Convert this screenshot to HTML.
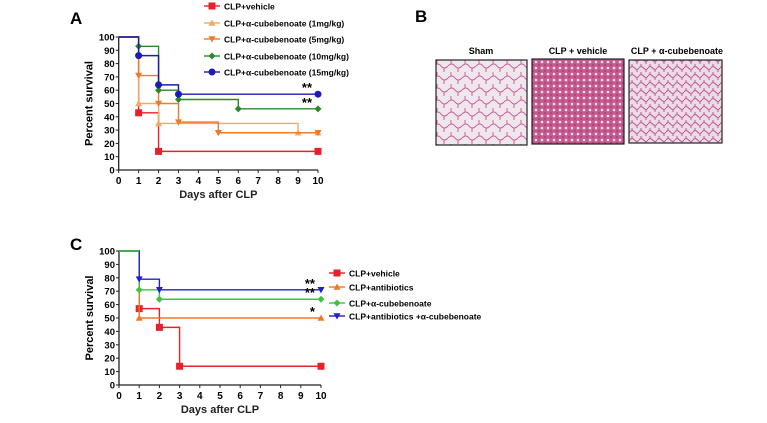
<!DOCTYPE html>
<html><head><meta charset="utf-8"><style>
body{margin:0;background:#fff;width:767px;height:418px;overflow:hidden;font-family:"Liberation Sans",Arial,sans-serif}
svg text{font-family:"Liberation Sans",Arial,sans-serif;font-weight:bold}
</style></head><body>
<svg id="fig" width="767" height="418" viewBox="0 0 767 418">
<defs>
<pattern id="p1" width="14" height="12" patternUnits="userSpaceOnUse"><rect width="14" height="12" fill="#efe6ee"/><path d="M0 6 Q4 2 7 6 T14 6 M3 0 V4 M10 8 V12" stroke="#c8649a" stroke-width="1" fill="none"/></pattern>
<pattern id="p2" width="6" height="6" patternUnits="userSpaceOnUse"><rect width="6" height="6" fill="#c45a8e"/><circle cx="2" cy="2" r="1.3" fill="#f0dce8"/><circle cx="5" cy="5" r="0.9" fill="#a83874"/></pattern>
<pattern id="p3" width="9" height="8" patternUnits="userSpaceOnUse"><rect width="9" height="8" fill="#eadbe7"/><path d="M0 4 Q2 1 4.5 4 T9 4 M2 0 V2 M7 6 V8" stroke="#c0578f" stroke-width="1" fill="none"/></pattern>
</defs>
<g id="panelA"></g>
<g id="panelC"></g>
<text x="70" y="24" font-size="17">A</text>
<text x="415" y="22" font-size="17">B</text>
<text x="70" y="250" font-size="17">C</text>
<text x="481" y="54" font-size="9" text-anchor="middle">Sham</text>
<text x="578" y="54" font-size="9" text-anchor="middle">CLP + vehicle</text>
<text x="677" y="54" font-size="9" text-anchor="middle">CLP + α-cubebenoate</text>
<rect x="436" y="60" width="91" height="85" fill="url(#p1)" stroke="#222" stroke-width="1.2"/>
<rect x="532" y="59" width="92" height="85" fill="url(#p2)" stroke="#222" stroke-width="1.2"/>
<rect x="629" y="60" width="93" height="83" fill="url(#p3)" stroke="#222" stroke-width="1.2"/>
</svg>
<script>
const ticksY=[0,10,20,30,40,50,60,70,80,90,100];
const ticksX=[0,1,2,3,4,5,6,7,8,9,10];
const namesA=["CLP+vehicle","CLP+α-cubebenoate (1mg/kg)","CLP+α-cubebenoate  (5mg/kg)","CLP+α-cubebenoate  (10mg/kg)","CLP+α-cubebenoate  (15mg/kg)"];
const colorsA=["#e8202a","#f6a860","#ef7a2c","#2a8a2a","#1c1cb0"];
const markersA=["square","up","down","diamond","circle"];
const daysA=[[1,2,10],[1,2,9,10],[1,2,3,5,10],[1,2,3,6,10],[1,2,3,10]];
const valsA=[[43,14,14],[50,35,28,28],[71,50,36,28,28],[93,60,53,46,46],[86,64,57,57]];
const namesC=["CLP+vehicle","CLP+antibiotics","CLP+α-cubebenoate","CLP+antibiotics +α-cubebenoate"];
const colorsC=["#e8202a","#f07828","#3cc43c","#2020c8"];
const markersC=["square","up","diamond","down"];
const daysC=[[1,2,3,10],[1,10],[1,2,10],[1,2,10]];
const valsC=[[57,43,14,14],[50,50],[71,64,64],[79,71,71]];
const NS="http://www.w3.org/2000/svg";
function mk(p,t,a){const e=document.createElementNS(NS,t);for(const k in a)e.setAttribute(k,a[k]);p.appendChild(e);return e;}
function marker(g,type,x,y,c,s){
 let e;
 if(type==="square")e=mk(g,"rect",{x:x-s,y:y-s,width:2*s,height:2*s,fill:c});
 else if(type==="circle")e=mk(g,"circle",{cx:x,cy:y,r:s,fill:c});
 else if(type==="up")e=mk(g,"polygon",{points:`${x},${y-s} ${x+s},${y+s*0.8} ${x-s},${y+s*0.8}`,fill:c});
 else if(type==="down")e=mk(g,"polygon",{points:`${x},${y+s} ${x+s},${y-s*0.8} ${x-s},${y-s*0.8}`,fill:c});
 else e=mk(g,"polygon",{points:`${x},${y-s} ${x+s},${y} ${x},${y+s} ${x-s},${y}`,fill:c});
 return e;
}
function chart(g,x0,x1,y0,y1,names,colors,markers,days,vals,legend,startColor){
 const X=d=>x0+(x1-x0)*d/10, Y=v=>y0-(y0-y1)*v/100;
 mk(g,"line",{x1:x0,y1:Y(0),x2:x0,y2:Y(100),stroke:"#222","stroke-width":1.3});
 mk(g,"line",{x1:x0,y1:Y(0),x2:X(10),y2:Y(0),stroke:"#222","stroke-width":1.3});
 ticksY.forEach(v=>{mk(g,"line",{x1:x0-3,y1:Y(v),x2:x0,y2:Y(v),stroke:"#222"});
  const t=mk(g,"text",{x:x0-4,y:Y(v)+3.5,"font-size":9.5,"text-anchor":"end"});t.textContent=v;
  
  });
 ticksX.forEach(d=>{mk(g,"line",{x1:X(d),y1:Y(0),x2:X(d),y2:Y(0)+3,stroke:"#222"});
  const t=mk(g,"text",{x:X(d),y:Y(0)+14,"font-size":10,"text-anchor":"middle"});t.textContent=d;
  
  });
 const xt=mk(g,"text",{x:(x0+X(10))/2,y:Y(0)+28,"font-size":11,"text-anchor":"middle",fill:"#222"});xt.textContent="Days after CLP";
 
 
 const yt=mk(g,"text",{x:0,y:0,"font-size":11,"text-anchor":"middle",transform:`translate(${x0-26},${(y0+y1)/2}) rotate(-90)`});yt.textContent="Percent survival";
 
 
 for(let i=0;i<names.length;i++){
  let d=`M${X(0)},${Y(100)}`;
  days[i].forEach((dd,j)=>{d+=` H${X(dd)} V${Y(vals[i][j])}`;});
  const p=mk(g,"path",{d:d,fill:"none",stroke:colors[i],"stroke-width":1.4});
  
  
  days[i].forEach((dd,j)=>{const m=marker(g,markers[i],X(dd),Y(vals[i][j]),colors[i],3.5);
   
   });
 }
 if(startColor)mk(g,"path",{d:`M${X(0)},${Y(100)} H${X(1)}`,stroke:startColor,"stroke-width":1.4});
 names.forEach((n,i)=>{const lx=legend.x,ly=legend.y[i];
  mk(g,"line",{x1:lx-8,y1:ly,x2:lx+8,y2:ly,stroke:colors[i],"stroke-width":1.4});
  const m=marker(g,markers[i],lx,ly,colors[i],3.5);
  
  
  const t=mk(g,"text",{x:lx+12,y:ly+3.5,"font-size":8.5});t.textContent=n;
  
  });
 return {X,Y};
}
const A=chart(document.getElementById("panelA"),118.7,318,170,37,namesA,colorsA,markersA,daysA,valsA,{x:212,y:[6,23,39,56,72]});
const C=chart(document.getElementById("panelC"),119,321,385,251,namesC,colorsC,markersC,daysC,valsC,{x:337,y:[273,287,303,316]},"#3cc43c");
function star(g,x,y,s,n){const t=mk(g,"text",{x:x,y:y,"font-size":13,"text-anchor":"end"});t.textContent=s;
 
 }
const ga=document.getElementById("panelA"),gc=document.getElementById("panelC");
star(ga,A.X(9.7),A.Y(57)-2,"**","significance-15mg");
star(ga,A.X(9.7),A.Y(46)-2,"**","significance-10mg");
star(gc,C.X(9.7),C.Y(71)-2,"**","significance-combo");
star(gc,C.X(9.7),C.Y(64)-2,"**","significance-cubebenoate");
star(gc,C.X(9.7),C.Y(50)-2,"*","significance-antibiotics");
</script>
</body></html>
